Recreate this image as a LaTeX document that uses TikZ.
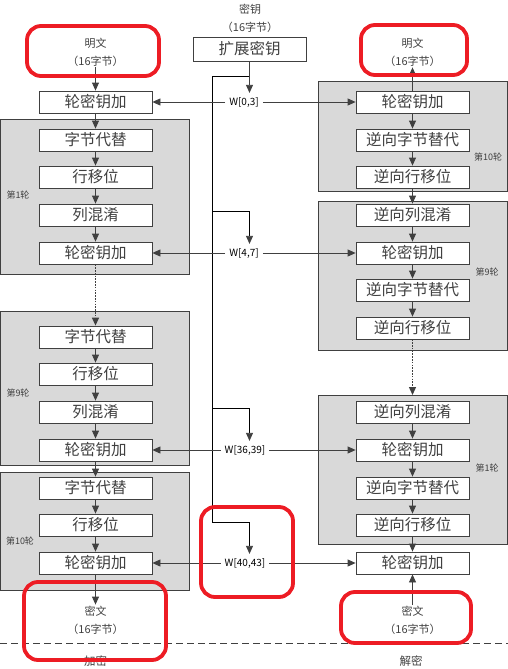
\documentclass[tikz,border=0pt]{standalone}
\usepackage{fontspec}
\setmainfont{Noto Sans CJK SC}
\usepackage{xcolor}
\usetikzlibrary{positioning,arrows.meta}
\definecolor{LineGray}{HTML}{404040}
\definecolor{RoundGray}{HTML}{D9D9D9}
\definecolor{MarkRed}{HTML}{ED1C24}
\tikzset{
  opbox/.style={draw=LineGray, fill=white, line width=0.8pt, minimum width=113pt, minimum height=22pt,
    inner sep=0pt, font=\fontsize{15.5}{15.5}\selectfont, text=LineGray},
  roundbg/.style={draw=LineGray, fill=RoundGray, line width=0.8pt},
  flow/.style={draw=LineGray, line width=0.8pt, -{Triangle[length=8pt,width=7pt]}},
  keyline/.style={draw=black, line width=0.8pt},
  dotflow/.style={flow, line width=1.3pt, dash pattern=on 1.6pt off 1.2pt},
  wlabel/.style={font=\fontsize{10}{10}\selectfont, text=black, inner sep=4pt},
  smalltext/.style={font=\fontsize{11}{18}\selectfont, text=LineGray, align=center, inner sep=1pt},
  roundtag/.style={font=\fontsize{9}{10}\selectfont, text=LineGray, inner sep=0pt},
  redmark/.style={draw=MarkRed, line width=3.8pt, rounded corners=14pt},
}
\begin{document}
\begin{tikzpicture}[x=1pt, y=-1pt]
  \useasboundingbox (0,0) rectangle (508,669);
  \draw[roundbg] (0,119) rectangle (189,274);
  \draw[roundbg] (0,311) rectangle (189,465);
  \draw[roundbg] (0,472) rectangle (189,590);
  \draw[roundbg] (318,81) rectangle (507.5,191);
  \draw[roundbg] (318,201) rectangle (507.5,350);
  \draw[roundbg] (318,395) rectangle (507.5,544);
  \node[roundtag] (tagA) at (18,195) {第1轮};
  \node[roundtag] (tagB) at (18,393) {第9轮};
  \node[roundtag] (tagC) at (20,541) {第10轮};
  \node[roundtag] (tagD) at (488,157) {第10轮};
  \node[roundtag] (tagE) at (487,272) {第9轮};
  \node[roundtag] (tagF) at (487,468) {第1轮};

  \node[smalltext] (ptL) at (95.5,52) {明文\\（16字节）};
  \node[smalltext] (ptR) at (412.5,52) {明文\\（16字节）};
  \node[smalltext] (ctL) at (95.5,620) {密文\\（16字节）};
  \node[smalltext] (ctR) at (412.5,620) {密文\\（16字节）};
  \node[smalltext] (keytxt) at (250,18) {密钥\\（16字节）};
  \node[opbox, minimum height=24pt] (expand) at (249.5,49) {扩展密钥};

  \node[opbox] (L0) at (95.5,102) {轮密钥加};
  \node[opbox] (L1a) at (95.5,140) {字节代替};
  \node[opbox] (L1b) at (95.5,177) {行移位};
  \node[opbox] (L1c) at (95.5,215) {列混淆};
  \node[opbox] (L1d) at (95.5,253) {轮密钥加};
  \node[opbox] (L9a) at (95.5,337) {字节代替};
  \node[opbox] (L9b) at (95.5,374) {行移位};
  \node[opbox] (L9c) at (95.5,412) {列混淆};
  \node[opbox] (L9d) at (95.5,450) {轮密钥加};
  \node[opbox] (L10a) at (95.5,488) {字节代替};
  \node[opbox] (L10b) at (95.5,525) {行移位};
  \node[opbox] (L10c) at (95.5,563) {轮密钥加};

  \node[opbox] (R10a) at (412.5,102) {轮密钥加};
  \node[opbox] (R10b) at (412.5,140) {逆向字节替代};
  \node[opbox] (R10c) at (412.5,177) {逆向行移位};
  \node[opbox] (R9a) at (412.5,215) {逆向列混淆};
  \node[opbox] (R9b) at (412.5,253) {轮密钥加};
  \node[opbox] (R9c) at (412.5,290) {逆向字节替代};
  \node[opbox] (R9d) at (412.5,328) {逆向行移位};
  \node[opbox] (R1a) at (412.5,412) {逆向列混淆};
  \node[opbox] (R1b) at (412.5,450) {轮密钥加};
  \node[opbox] (R1c) at (412.5,488) {逆向字节替代};
  \node[opbox] (R1d) at (412.5,525) {逆向行移位};
  \node[opbox] (R0) at (412.5,563) {轮密钥加};
  \coordinate (R1top) at (412.5,395);

  \node[wlabel] (w03) at (244,102) {W[0,3]};
  \node[wlabel] (w47) at (244,253) {W[4,7]};
  \node[wlabel] (w3639) at (245,450) {W[36,39]};
  \node[wlabel] (w4043) at (245,563) {W[40,43]};

  \coordinate (ktop) at (212,76);
  \coordinate (k47) at (212,211);
  \coordinate (k3639) at (212,408);
  \coordinate (k4043) at (212,522);
  \draw[keyline] (ktop) -- (k4043);
  \draw[keyline] (ktop) -- (ktop -| expand.south);
  \draw[flow] (expand.south) -- (w03.north -| expand.south);
  \foreach \k/\w in {k47/w47, k3639/w3639, k4043/w4043}
    \draw[keyline, -{Triangle[length=8pt,width=7pt,color=LineGray]}] (\k) -- (\k -| expand.south) -- (\w.north -| expand.south);
  \foreach \w/\l/\r in {w03/L0/R10a, w47/L1d/R9b, w3639/L9d/R1b, w4043/L10c/R0}{
    \draw[flow] (\w.west) -- (\l.east);
    \draw[flow] (\w.east) -- (\r.west);
  }

  \draw[flow] (ptL.south) -- (L0.north);
  \foreach \a/\b in {L0/L1a, L1a/L1b, L1b/L1c, L1c/L1d, L9a/L9b, L9b/L9c, L9c/L9d, L9d/L10a, L10a/L10b, L10b/L10c}
    \draw[flow] (\a.south) -- (\b.north);
  \draw[dotflow] (L1d.south) -- (L9a.north);
  \draw[flow] (L10c.south) -- (ctL.north);

  \draw[flow] (R10a.north) -- (ptR.south);
  \foreach \a/\b in {R10a/R10b, R10b/R10c, R10c/R9a, R9a/R9b, R9b/R9c, R9c/R9d, R1a/R1b, R1b/R1c, R1c/R1d, R1d/R0}
    \draw[flow] (\a.south) -- (\b.north);
  \draw[dotflow] (R9d.south) -- (R1top);
  \draw[flow] (ctR.north) -- (R0.south);

  \draw[draw=LineGray, line width=0.8pt, dash pattern=on 7pt off 4pt] (0,643) -- (508,643);
  \node[smalltext, font=\fontsize{11.5}{12}\selectfont] (enc) at (95.5,661) {加密};
  \node[smalltext, font=\fontsize{11.5}{12}\selectfont] (dec) at (411,661) {解密};

  \draw[redmark] (27,26) rectangle (159,76);
  \draw[redmark] (361,25) rectangle (467,75);
  \draw[redmark] (201,507) rectangle (293,597);
  \draw[redmark] (24,582) rectangle (166,660);
  \draw[redmark] (341,592) rectangle (471,643);
\end{tikzpicture}
\end{document}
